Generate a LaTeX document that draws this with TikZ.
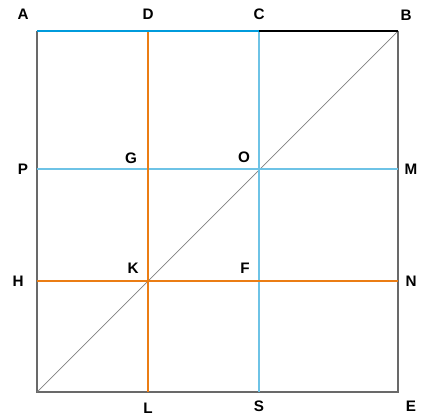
\documentclass[tikz,border=0pt]{standalone}
\usepackage{fontspec}
\setmainfont{Liberation Sans}
\usetikzlibrary{positioning}

\definecolor{topblue}{RGB}{0,155,220}
\definecolor{paleblue}{RGB}{110,195,230}
\definecolor{lineorange}{RGB}{235,125,20}
\definecolor{sidegray}{RGB}{105,105,105}

\begin{document}
\begin{tikzpicture}[x=0.03cm, y=-0.03cm,
    lbl/.style={font=\fontsize{13}{15}\selectfont\bfseries, inner sep=0pt},
    bluelinestyle/.style={paleblue, line width=1.7pt},
    orangelinestyle/.style={lineorange, line width=1.7pt}]
      \useasboundingbox (0,0) rectangle (429,418);

      % corners and points of the square
      \coordinate (A) at (37,31);
      \coordinate (B) at (398,31);
      \coordinate (E) at (398,392);
      \coordinate (Z) at (37,392);
      \coordinate (D) at (148,31);
      \coordinate (C) at (259,31);
      \coordinate (L) at (148,392);
      \coordinate (S) at (259,392);
      \coordinate (P) at (37,169);
      \coordinate (M) at (398,169);
      \coordinate (H) at (37,281);
      \coordinate (N) at (398,281);

      \draw[sidegray, line width=1.6pt] (A) -- (Z) -- (E) -- (B);
      \draw[gray, line width=0.6pt] (Z) -- (B);

      \draw[bluelinestyle] (C) -- (S);
      \draw[bluelinestyle] (P) -- (M);
      \draw[orangelinestyle] (D) -- (L);
      \draw[orangelinestyle] (H) -- (N);

      \draw[topblue, line width=2.4pt] (A) -- (C);
      \draw[black, line width=2.4pt] (C) -- (B);

      \node[lbl] (lA) at (23,14) {A};
      \node[lbl] (lD) at (148,14) {D};
      \node[lbl] (lC) at (259,14) {C};
      \node[lbl] (lB) at (406,15) {B};
      \node[lbl] (lP) at (23,169) {P};
      \node[lbl] (lG) at (131,158) {G};
      \node[lbl] (lO) at (244,157) {O};
      \node[lbl] (lM) at (411,169) {M};
      \node[lbl] (lH) at (18,281) {H};
      \node[lbl] (lK) at (133,268) {K};
      \node[lbl] (lF) at (245,268) {F};
      \node[lbl] (lN) at (411,281) {N};
      \node[lbl] (lL) at (148,408) {L};
      \node[lbl] (lS) at (259,406) {S};
      \node[lbl] (lE) at (411,406) {E};

    \end{tikzpicture}
\end{document}
